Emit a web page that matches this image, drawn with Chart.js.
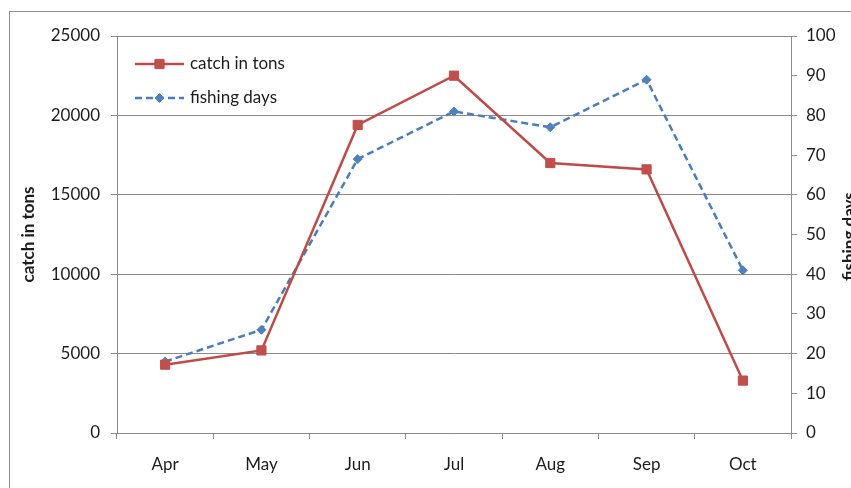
<!DOCTYPE html>
<html>
<head>
<meta charset="utf-8">
<script src="https://cdn.jsdelivr.net/npm/chart.js@4/dist/chart.umd.min.js"></script>
<style>
  html, body { margin: 0; padding: 0; background: #fff; overflow: hidden; }
  #wrap { position: relative; width: 851px; height: 488px; }
</style>
</head>
<body>
<div id="wrap"><canvas id="c" width="851" height="488"></canvas></div>
<script>
// Monthly catch and fishing effort
const months = ['Apr', 'May', 'Jun', 'Jul', 'Aug', 'Sep', 'Oct'];
const catchTons = [4300, 5200, 19400, 22500, 17000, 16600, 3300];
const fishingDays = [18, 26, 69, 81, 77, 89, 41];

// Axis ranges and tick steps
const catchAxis = { min: 0, max: 25000, step: 5000 };
const daysAxis = { min: 0, max: 100, step: 10 };

const FONT = 'Lato, "Open Sans", sans-serif';
const GRID = '#8a8a8a';
const TEXT = '#1c1c1c';
const RED_LINE = '#BE4B48', RED_FILL = '#C0504D';
const BLUE_LINE = '#4A7EBB', BLUE_FILL = '#4F81BD';

// White background plus the outer frame of the chart object
const framePlugin = {
  id: 'frame',
  beforeDraw(chart) {
    const ctx = chart.ctx;
    ctx.save();
    ctx.fillStyle = '#fff';
    ctx.fillRect(0, 0, chart.width, chart.height);
    ctx.strokeStyle = '#8f8f8f';
    ctx.lineWidth = 1;
    ctx.strokeRect(9.5, 11.5, 1200, 1200);
    ctx.restore();
  }
};

// Legend inside the plot, plus the right-hand axis title read bottom-to-top
const overlayPlugin = {
  id: 'overlay',
  afterDraw(chart) {
    const ctx = chart.ctx;
    const rows = [64, 98];
    chart.data.datasets.forEach((ds, i) => {
      const y = rows[i];
      ctx.save();
      ctx.strokeStyle = ds.borderColor;
      ctx.lineWidth = ds.borderWidth;
      ctx.setLineDash(ds.borderDash || []);
      ctx.beginPath();
      ctx.moveTo(135, y);
      ctx.lineTo(184, y);
      ctx.stroke();
      ctx.setLineDash([]);
      ctx.fillStyle = ds.pointBackgroundColor;
      ctx.strokeStyle = ds.pointBorderColor;
      ctx.lineWidth = ds.pointBorderWidth;
      Chart.helpers.drawPoint(ctx, {
        pointStyle: ds.pointStyle,
        radius: ds.pointRadius,
        borderWidth: ds.pointBorderWidth,
        rotation: 0
      }, 159.5, y);
      ctx.fillStyle = TEXT;
      ctx.font = '17px ' + FONT;
      ctx.textAlign = 'left';
      ctx.textBaseline = 'middle';
      ctx.fillText(ds.label, 190, y);
      ctx.restore();
    });

    const area = chart.chartArea;
    ctx.save();
    ctx.translate(850, (area.top + area.bottom) / 2 + 2);
    ctx.rotate(-Math.PI / 2);
    ctx.fillStyle = TEXT;
    ctx.font = 'bold 17px ' + FONT;
    ctx.textAlign = 'center';
    ctx.textBaseline = 'middle';
    ctx.fillText('fishing days', 0, 0);
    ctx.restore();
  }
};

new Chart(document.getElementById('c'), {
  type: 'line',
  data: {
    labels: months,
    datasets: [
      {
        label: 'catch in tons',
        data: catchTons,
        yAxisID: 'y',
        borderColor: RED_LINE,
        borderWidth: 2.5,
        pointStyle: 'rect',
        pointRadius: 6.5,
        pointBackgroundColor: RED_FILL,
        pointBorderColor: RED_FILL,
        pointBorderWidth: 1,
        tension: 0
      },
      {
        label: 'fishing days',
        data: fishingDays,
        yAxisID: 'y1',
        borderColor: BLUE_LINE,
        borderWidth: 2.5,
        borderDash: [7, 4],
        pointStyle: 'rectRot',
        pointRadius: 4.5,
        pointBackgroundColor: BLUE_FILL,
        pointBorderColor: BLUE_FILL,
        pointBorderWidth: 1,
        tension: 0
      }
    ]
  },
  options: {
    responsive: false,
    animation: false,
    devicePixelRatio: 1,
    layout: { padding: { top: 36, left: 0, right: 0, bottom: 0 } },
    plugins: { legend: { display: false }, tooltip: { enabled: false } },
    scales: {
      x: {
        offset: true,
        grid: { offset: true, drawOnChartArea: false, tickLength: 6, color: GRID },
        border: { color: GRID },
        ticks: { color: TEXT, padding: 15, font: { family: FONT, size: 17 }, maxRotation: 0 },
        afterFit(s) { s.height = 55; }
      },
      y: {
        position: 'left',
        min: catchAxis.min,
        max: catchAxis.max,
        grid: { color: GRID, tickLength: 6 },
        border: { color: GRID },
        ticks: {
          stepSize: catchAxis.step,
          color: TEXT,
          padding: 11,
          font: { family: FONT, size: 17 },
          callback: v => String(v)
        },
        title: {
          display: true,
          text: 'catch in tons',
          color: TEXT,
          font: { family: FONT, size: 17, weight: 'bold' },
          padding: { top: 18, bottom: 0 }
        },
        afterFit(s) { s.width = 117; }
      },
      y1: {
        position: 'right',
        min: daysAxis.min,
        max: daysAxis.max,
        grid: { drawOnChartArea: false, color: GRID, tickLength: 6 },
        border: { color: GRID },
        ticks: {
          stepSize: daysAxis.step,
          color: TEXT,
          padding: 9,
          font: { family: FONT, size: 17 },
          callback: v => String(v)
        },
        afterFit(s) { s.width = 60; }
      }
    }
  },
  plugins: [framePlugin, overlayPlugin]
});
</script>
</body>
</html>
